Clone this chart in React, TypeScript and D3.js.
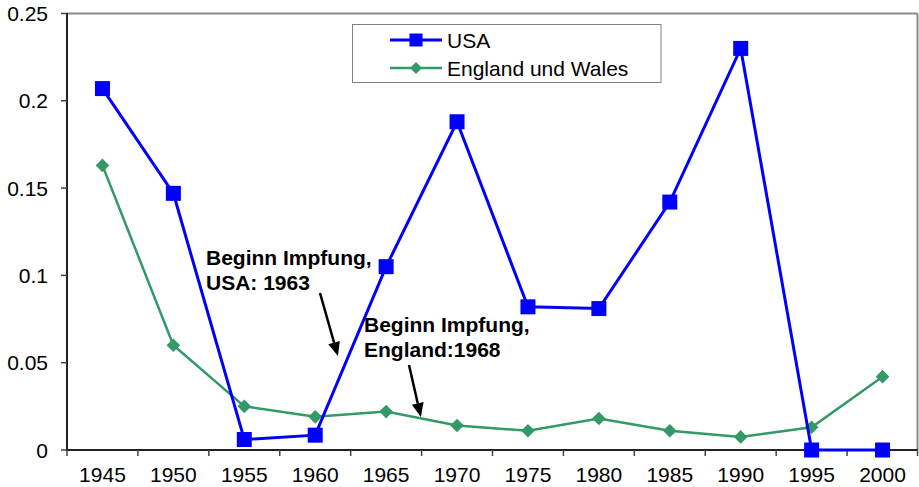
import React from "react";
import * as d3 from "d3";

const years = ["1945", "1950", "1955", "1960", "1965", "1970", "1975", "1980", "1985", "1990", "1995", "2000"];
const usaValues = [0.207, 0.147, 0.006, 0.0085, 0.105, 0.188, 0.082, 0.081, 0.142, 0.23, 0, 0];
const englandValues = [0.163, 0.06, 0.025, 0.019, 0.022, 0.014, 0.011, 0.018, 0.011, 0.0075, 0.013, 0.042];
const yTicks = [0, 0.05, 0.1, 0.15, 0.2, 0.25];
const yTickLabels = ["0", "0.05", "0.1", "0.15", "0.2", "0.25"];
const seriesNames = ["USA", "England und Wales"];
const annotationLines1 = ["Beginn Impfung,", "USA: 1963"];
const annotationLines2 = ["Beginn Impfung,", "England:1968"];
// arrow tips: [year position, value]
const arrowTip1 = [1961.6, 0.0538];
const arrowTip2 = [1967.45, 0.0189];

const W = 919;
const H = 487;
const FONT = "'Liberation Sans', Arial, Helvetica, sans-serif";
const USA_COLOR = "#0000ff";
const ENG_COLOR = "#339966";

export default function App() {
  const x = d3.scaleBand<string>().domain(years).range([67, 918]).padding(0);
  const y = d3.scaleLinear().domain([0, 0.25]).range([450, 13.5]);
  const cx = (yr: string) => (x(yr) as number) + x.bandwidth() / 2;
  const xYear = d3.scaleLinear().domain([1945, 2000]).range([cx("1945"), cx("2000")]);

  const lineGen = d3
    .line<number>()
    .x((_, i) => cx(years[i]))
    .y((d) => y(d));

  const diamond = (s: number) => `M0,${-s}L${s},0L0,${s}L${-s},0Z`;

  const arrow = (x1: number, y1: number, x2: number, y2: number) => {
    const ang = Math.atan2(y2 - y1, x2 - x1);
    const len = 14;
    const hw = 6;
    const bx = x2 - len * Math.cos(ang);
    const by = y2 - len * Math.sin(ang);
    const px = -Math.sin(ang) * hw;
    const py = Math.cos(ang) * hw;
    return (
      <g>
        <line x1={x1} y1={y1} x2={bx} y2={by} stroke="#000" strokeWidth={2.5} />
        <path d={`M${x2},${y2}L${bx + px},${by + py}L${bx - px},${by - py}Z`} fill="#000" />
      </g>
    );
  };

  return (
    <svg
      width={W}
      height={H}
      style={{ position: "absolute", left: 0, top: 0, background: "#fff" }}
      fontFamily={FONT}
    >
      <rect x={0} y={0} width={W} height={H} fill="#fff" />
      <line x1={67} y1={13.5} x2={917.5} y2={13.5} stroke="#8a8a8a" strokeWidth={2} />
      <line x1={917.5} y1={13.5} x2={917.5} y2={450} stroke="#8a8a8a" strokeWidth={2} />
      <line x1={67} y1={13} x2={67} y2={451} stroke="#222" strokeWidth={2} />
      {yTicks.map((t, i) => (
        <g key={t}>
          <line x1={61} x2={67} y1={y(t)} y2={y(t)} stroke="#444" strokeWidth={1.5} />
          <text x={48} y={y(t) + 7.5} fontSize={21} textAnchor="end" fill="#000">
            {yTickLabels[i]}
          </text>
        </g>
      ))}
      <line x1={66} y1={450} x2={918} y2={450} stroke="#222" strokeWidth={2} />
      {years.map((yr) => (
        <line key={"t" + yr} x1={x(yr) as number} x2={x(yr) as number} y1={450} y2={456} stroke="#444" strokeWidth={1.5} />
      ))}
      <line x1={917.5} x2={917.5} y1={450} y2={456} stroke="#444" strokeWidth={1.5} />
      {years.map((yr) => (
        <text key={"l" + yr} x={cx(yr)} y={482} fontSize={21} textAnchor="middle" fill="#000">
          {yr}
        </text>
      ))}

      <path d={lineGen(englandValues) || ""} fill="none" stroke={ENG_COLOR} strokeWidth={2.5} />
      {englandValues.map((v, i) => (
        <path key={"e" + i} d={diamond(6.8)} transform={`translate(${cx(years[i])},${y(v)})`} fill={ENG_COLOR} />
      ))}
      <path d={lineGen(usaValues) || ""} fill="none" stroke={USA_COLOR} strokeWidth={3} />
      {usaValues.map((v, i) => (
        <rect key={"u" + i} x={cx(years[i]) - 7.5} y={y(v) - 7.5} width={15} height={15} fill={USA_COLOR} />
      ))}

      <rect x={352.5} y={24.5} width={308.5} height={58} fill="#fff" stroke="#808080" strokeWidth={1} />
      <line x1={390} x2={442} y1={40} y2={40} stroke={USA_COLOR} strokeWidth={3} />
      <rect x={416 - 6.5} y={40 - 6.5} width={13} height={13} fill={USA_COLOR} />
      <text x={447} y={47.8} fontSize={21} fill="#000">
        {seriesNames[0]}
      </text>
      <line x1={390} x2={442} y1={68} y2={68} stroke={ENG_COLOR} strokeWidth={2.5} />
      <path d={diamond(6)} transform="translate(416,68)" fill={ENG_COLOR} />
      <text x={447} y={75.8} fontSize={21} fill="#000">
        {seriesNames[1]}
      </text>

      <text x={206} y={265} fontSize={21} fontWeight="bold" fill="#000">
        <tspan x={206}>{annotationLines1[0]}</tspan>
        <tspan x={206} dy={25}>{annotationLines1[1]}</tspan>
      </text>
      {arrow(320, 293, xYear(arrowTip1[0]), y(arrowTip1[1]))}
      <text x={364} y={332} fontSize={21} fontWeight="bold" fill="#000">
        <tspan x={364}>{annotationLines2[0]}</tspan>
        <tspan x={364} dy={24.5}>{annotationLines2[1]}</tspan>
      </text>
      {arrow(409, 365, xYear(arrowTip2[0]), y(arrowTip2[1]))}
    </svg>
  );
}
